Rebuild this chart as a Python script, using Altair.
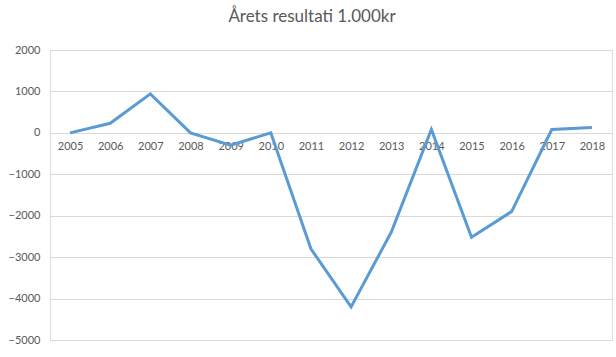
import altair as alt
import pandas as pd

years = ["2005", "2006", "2007", "2008", "2009", "2010", "2011",
         "2012", "2013", "2014", "2015", "2016", "2017", "2018"]
values = [0, 230, 940, 0, -300, 0, -2800, -4200, -2400, 80, -2520, -1900, 80, 130]
y_ticks = [2000, 1000, 0, -1000, -2000, -3000, -4000, -5000]

df = pd.DataFrame({"year": years, "value": values})

FONT = "Lato"
GREY = "#595959"

chart = alt.Chart(df).mark_line(color="#5B9BD5", strokeWidth=3).encode(
    x=alt.X("year:N", sort=years, title=None,
            scale=alt.Scale(paddingInner=0, paddingOuter=0.5),
            axis=alt.Axis(offset=-207, domain=False, ticks=False, labelAngle=0,
                          labelPadding=7, labelFontSize=11, labelColor=GREY,
                          labelFont=FONT, grid=False)),
    y=alt.Y("value:Q", title=None,
            scale=alt.Scale(domain=[-5000, 2000], nice=False, zero=False),
            axis=alt.Axis(values=y_ticks, format="d", domain=False, ticks=False,
                          labelPadding=10, labelFontSize=11, labelColor=GREY,
                          labelFont=FONT, gridColor="#D9D9D9", gridWidth=1)),
).properties(
    width=562, height=290,
    autosize=alt.AutoSizeParams(type="none"),
    padding={"left": 50, "top": 50, "right": 4, "bottom": 17},
    title=alt.TitleParams("Årets resultati 1.000kr", font=FONT, fontSize=17,
                          fontWeight="normal", color=GREY, anchor="middle",
                          dx=-19, offset=18),
).configure_view(stroke=None).configure(background="white")

chart.save("out.html", embed_options={"renderer": "svg", "actions": False})
